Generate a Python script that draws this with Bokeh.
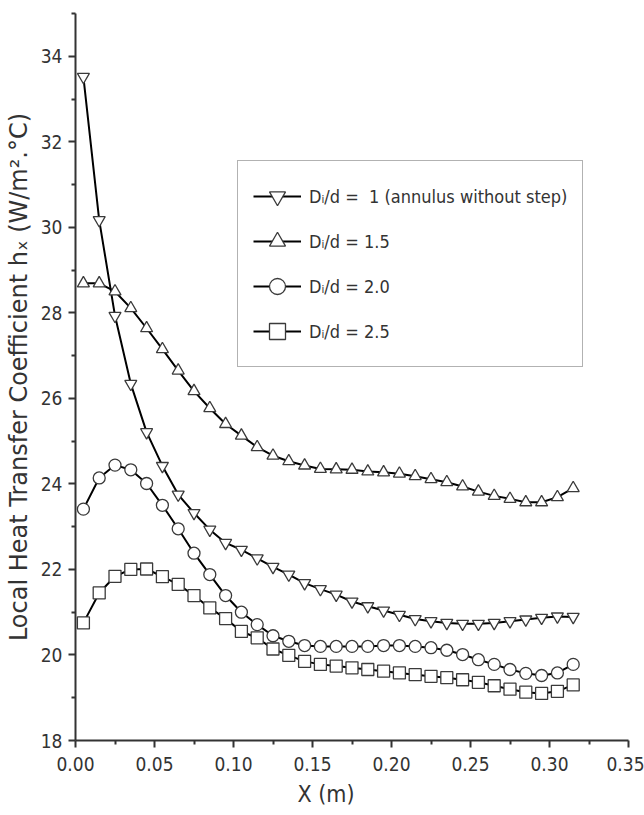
from bokeh.plotting import figure
from bokeh.models import (FixedTicker, Legend, LegendItem, Range1d,
                          NumeralTickFormatter, Title)
from bokeh.embed import file_html
from bokeh.resources import INLINE

# Axial positions along the annulus (m)
x_pos = [0.005, 0.015, 0.025, 0.035, 0.045, 0.055, 0.065, 0.075,
         0.085, 0.095, 0.105, 0.115, 0.125, 0.135, 0.145, 0.155,
         0.165, 0.175, 0.185, 0.195, 0.205, 0.215, 0.225, 0.235,
         0.245, 0.255, 0.265, 0.275, 0.285, 0.295, 0.305, 0.315]

# Local heat transfer coefficient h_x (W/m2.°C) for each diameter ratio
h_ratio_1_0 = [33.52, 30.17, 27.93, 26.34, 25.21, 24.42, 23.75, 23.32,
               22.93, 22.62, 22.46, 22.26, 22.06, 21.88, 21.68, 21.54,
               21.41, 21.25, 21.14, 21.04, 20.94, 20.84, 20.79, 20.75,
               20.73, 20.73, 20.75, 20.79, 20.83, 20.87, 20.90, 20.89]
h_ratio_1_5 = [28.69, 28.69, 28.50, 28.11, 27.64, 27.15, 26.65, 26.17,
               25.77, 25.40, 25.13, 24.86, 24.66, 24.53, 24.43, 24.35,
               24.34, 24.33, 24.29, 24.27, 24.24, 24.18, 24.11, 24.04,
               23.94, 23.82, 23.72, 23.65, 23.57, 23.57, 23.69, 23.90]
h_ratio_2_0 = [23.41, 24.14, 24.44, 24.33, 24.01, 23.50, 22.95, 22.38,
               21.88, 21.39, 21.00, 20.71, 20.45, 20.32, 20.22, 20.20,
               20.20, 20.20, 20.20, 20.22, 20.22, 20.20, 20.17, 20.11,
               20.01, 19.89, 19.78, 19.66, 19.57, 19.52, 19.58, 19.78]
h_ratio_2_5 = [20.75, 21.45, 21.84, 22.00, 22.01, 21.83, 21.65, 21.39,
               21.10, 20.85, 20.55, 20.40, 20.14, 19.99, 19.85, 19.78,
               19.74, 19.70, 19.66, 19.62, 19.58, 19.54, 19.50, 19.47,
               19.42, 19.36, 19.28, 19.20, 19.13, 19.10, 19.15, 19.30]

series_labels = ["D\u1d62/d =  1 (annulus without step)",
                 "D\u1d62/d = 1.5",
                 "D\u1d62/d = 2.0",
                 "D\u1d62/d = 2.5"]
series_markers = ["inverted_triangle", "triangle", "circle", "square"]

# Tick positions
x_major = [0.00, 0.05, 0.10, 0.15, 0.20, 0.25, 0.30, 0.35]
x_minor = [0.025, 0.075, 0.125, 0.175, 0.225, 0.275, 0.325]
y_major = [18, 20, 22, 24, 26, 28, 30, 32, 34]
y_minor = [19, 21, 23, 25, 27, 29, 31, 33, 35]

NARROW = "DejaVu Sans Condensed, Liberation Sans Narrow, Liberation Sans"

p = figure(width=644, height=815, output_backend="svg", toolbar_location=None,
           x_range=Range1d(0, 0.35), y_range=Range1d(18, 35),
           min_border_left=75, min_border_right=16,
           min_border_top=13, min_border_bottom=75)
p.outline_line_color = None
p.xgrid.visible = False
p.ygrid.visible = False
p.background_fill_color = "white"
p.border_fill_color = "white"

for ax in (p.xaxis[0], p.yaxis[0]):
    ax.axis_line_color = "#333333"
    ax.axis_line_width = 2
    ax.major_tick_line_color = "#333333"
    ax.major_tick_line_width = 2
    ax.minor_tick_line_color = "#333333"
    ax.minor_tick_line_width = 2
    ax.major_tick_in = 0
    ax.major_tick_out = 7
    ax.minor_tick_in = 0
    ax.minor_tick_out = 4
    ax.major_label_text_font = NARROW
    ax.major_label_text_font_size = "19px"
    ax.major_label_text_color = "#333333"

p.xaxis.major_label_standoff = 9
p.yaxis.major_label_standoff = 6

p.xaxis.ticker = FixedTicker(ticks=x_major, minor_ticks=x_minor)
p.xaxis.formatter = NumeralTickFormatter(format="0.00")
p.yaxis.ticker = FixedTicker(ticks=y_major, minor_ticks=y_minor)

p.yaxis.axis_label = "Local Heat Transfer Coefficient h\u2093 (W/m\u00b2.\u00b0C)"
p.yaxis.axis_label_text_font = "DejaVu Sans"
p.yaxis.axis_label_text_font_style = "normal"
p.yaxis.axis_label_text_font_size = "24px"
p.yaxis.axis_label_text_color = "#333333"
p.yaxis.axis_label_standoff = 5

p.add_layout(Title(text="X (m)", align="left", offset=222,
                   text_font=NARROW, text_font_size="23px",
                   text_font_style="normal", text_color="#333333"), "below")

items = []
for ys, label, marker in zip([h_ratio_1_0, h_ratio_1_5, h_ratio_2_0, h_ratio_2_5],
                             series_labels, series_markers):
    ln = p.line(x_pos, ys, line_color="black", line_width=2)
    mk = p.scatter(x_pos, ys, marker=marker, size=12, fill_color="white",
                   line_color="#3a3a3a", line_width=1.3)
    items.append(LegendItem(label=label, renderers=[ln, mk]))

legend = Legend(items=items, location=(162, 373), orientation="vertical",
                glyph_width=48, glyph_height=40, label_height=40, spacing=5,
                padding=15, margin=0, label_standoff=8,
                label_text_font=NARROW, label_text_font_size="18px",
                label_text_color="#333333",
                border_line_color="#666666", border_line_width=1.5,
                background_fill_color="white", background_fill_alpha=1)
p.add_layout(legend, "center")

open("out.html", "w").write(file_html(p, INLINE))
